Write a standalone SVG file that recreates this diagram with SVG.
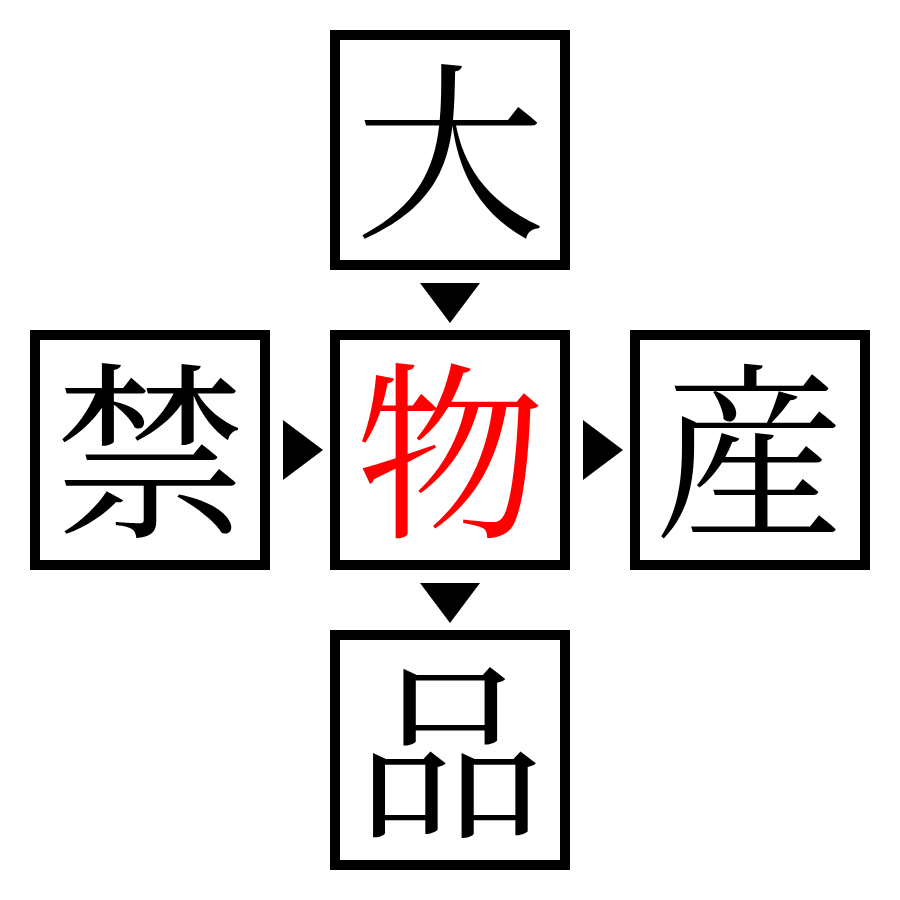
<svg xmlns="http://www.w3.org/2000/svg" width="900" height="900" viewBox="0 0 900 900">
<style>
.box{fill:#fff;stroke:#000;stroke-width:10}
.ch{font-family:"Noto Serif CJK JP","Noto Sans CJK JP",serif;font-size:190px;text-anchor:middle;dominant-baseline:central;fill:#000}
.arr{fill:#000}
</style>
<rect width="900" height="900" fill="#fff"/>
<g id="top"><rect class="box" x="335" y="35" width="230" height="230"/><text class="ch" x="450" y="140">大</text></g>
<g id="left"><rect class="box" x="35" y="335" width="230" height="230"/><text class="ch" x="150" y="440">禁</text></g>
<g id="center"><rect class="box" x="335" y="335" width="230" height="230"/><text class="ch" x="450" y="440" style="fill:#f00">物</text></g>
<g id="right"><rect class="box" x="635" y="335" width="230" height="230"/><text class="ch" x="750" y="440">産</text></g>
<g id="bottom"><rect class="box" x="335" y="635" width="230" height="230"/><text class="ch" x="450" y="740">品</text></g>
<g id="connectors">
<polygon class="arr" points="420,283 480,283 450,323"/>
<polygon class="arr" points="283,420 283,480 323,450"/>
<polygon class="arr" points="583,420 583,480 623,450"/>
<polygon class="arr" points="420,583 480,583 450,623"/>
</g>
</svg>
